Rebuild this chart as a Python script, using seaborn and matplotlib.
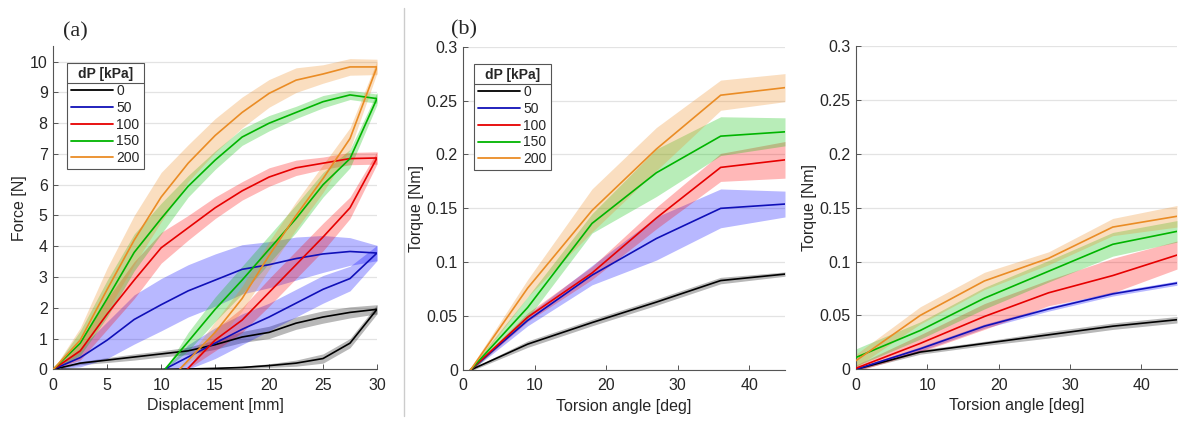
import numpy as np
import pandas as pd
import seaborn as sns
import matplotlib
matplotlib.use("Agg")
import matplotlib.pyplot as plt
from matplotlib.lines import Line2D

sns.set_theme(style="white")
plt.rcParams["font.family"] = ["Liberation Sans", "DejaVu Sans"]

# ---------------- data ----------------
pressures = ["0", "50", "100", "150", "200"]
line_colors = ["#000000", "#1010b8", "#e60000", "#00b400", "#ea8c25"]
band_colors = ["#000000", "#0000ff", "#ff0000", "#00c000", "#ee8a1e"]

# (a) force-displacement hysteresis: loading (0 -> 30 mm) then unloading (30 -> back)
disp_load = [0, 2.5, 5, 7.5, 10, 12.5, 15, 17.5, 20, 22.5, 25, 27.5, 30]
force_load = {
    "0":   [0, 0.2, 0.3, 0.4, 0.5, 0.6, 0.8, 1.05, 1.2, 1.5, 1.7, 1.85, 1.95],
    "50":  [0, 0.38, 0.95, 1.62, 2.1, 2.55, 2.9, 3.25, 3.4, 3.6, 3.75, 3.83, 3.78],
    "100": [0, 0.6, 1.8, 2.9, 3.95, 4.6, 5.25, 5.8, 6.25, 6.55, 6.7, 6.85, 6.87],
    "150": [0, 0.85, 2.3, 3.8, 4.9, 5.95, 6.8, 7.55, 8.0, 8.35, 8.7, 8.92, 8.8],
    "200": [0, 0.95, 2.6, 4.2, 5.6, 6.7, 7.6, 8.35, 8.97, 9.4, 9.6, 9.83, 9.83],
}
force_load_sd = {
    "0":   [0, 0.05, 0.08, 0.1, 0.1, 0.12, 0.15, 0.18, 0.2, 0.2, 0.2, 0.18, 0.15],
    "50":  [0, 0.3, 0.6, 0.8, 0.85, 0.85, 0.85, 0.8, 0.75, 0.7, 0.6, 0.45, 0.25],
    "100": [0, 0.3, 0.5, 0.6, 0.5, 0.4, 0.35, 0.3, 0.3, 0.25, 0.2, 0.2, 0.2],
    "150": [0, 0.4, 0.6, 0.6, 0.5, 0.35, 0.3, 0.27, 0.25, 0.2, 0.2, 0.15, 0.15],
    "200": [0, 0.4, 0.7, 0.8, 0.8, 0.6, 0.55, 0.5, 0.45, 0.4, 0.3, 0.27, 0.25],
}
disp_unload = {
    "0":   [30, 27.5, 25, 22.5, 20, 17.5, 15, 12.5, 10, 7.5, 5, 2.5, 0.8],
    "50":  [30, 27.5, 25, 22.5, 20, 17.5, 15, 12.5, 10.3],
    "100": [30, 27.5, 25, 22.5, 20, 17.5, 15, 12.4],
    "150": [30, 27.5, 25, 22.5, 20, 17.5, 15, 12.5, 10.35],
    "200": [30, 27.5, 25, 22.5, 20, 17.5, 15, 11.7],
}
force_unload = {
    "0":   [1.95, 0.85, 0.35, 0.2, 0.12, 0.06, 0.03, 0.01, 0, 0, 0, 0, 0],
    "50":  [3.78, 2.95, 2.6, 2.15, 1.7, 1.3, 0.85, 0.4, 0],
    "100": [6.87, 5.25, 4.3, 3.4, 2.5, 1.6, 0.95, 0],
    "150": [8.8, 6.85, 6.0, 4.9, 3.9, 2.9, 1.95, 0.9, 0],
    "200": [9.83, 7.5, 6.2, 5.0, 3.7, 2.3, 1.2, 0],
}
force_unload_sd = {
    "0":   [0.15, 0.15, 0.15, 0.1, 0.06, 0.04, 0.03, 0.02, 0, 0, 0, 0, 0],
    "50":  [0.25, 0.4, 0.45, 0.45, 0.45, 0.5, 0.5, 0.4, 0],
    "100": [0.2, 0.35, 0.45, 0.45, 0.45, 0.4, 0.35, 0],
    "150": [0.2, 0.3, 0.4, 0.45, 0.45, 0.45, 0.4, 0.3, 0],
    "200": [0.2, 0.35, 0.45, 0.45, 0.45, 0.4, 0.35, 0],
}

# (b) torque vs torsion angle
angle_b = [1, 9, 18, 27, 36, 45]
torque_b = {
    "0":   [0, 0.024, 0.044, 0.063, 0.083, 0.089],
    "50":  [0, 0.046, 0.088, 0.122, 0.150, 0.154],
    "100": [0, 0.049, 0.090, 0.141, 0.188, 0.195],
    "150": [0, 0.058, 0.136, 0.183, 0.217, 0.221],
    "200": [0, 0.076, 0.148, 0.205, 0.255, 0.262],
}
torque_b_sd = {
    "0":   [0.001, 0.003, 0.003, 0.003, 0.003, 0.002],
    "50":  [0.001, 0.005, 0.009, 0.02, 0.018, 0.012],
    "100": [0.001, 0.004, 0.006, 0.01, 0.013, 0.017],
    "150": [0.002, 0.01, 0.009, 0.022, 0.018, 0.013],
    "200": [0.002, 0.008, 0.02, 0.02, 0.014, 0.013],
}

# (c) torque vs torsion angle, second configuration
angle_c = [0, 9, 18, 27, 36, 45]
torque_c = {
    "0":   [0, 0.016, 0.024, 0.032, 0.040, 0.046],
    "50":  [0, 0.019, 0.040, 0.056, 0.070, 0.080],
    "100": [0.001, 0.024, 0.049, 0.071, 0.087, 0.106],
    "150": [0.011, 0.036, 0.066, 0.091, 0.116, 0.128],
    "200": [0.008, 0.050, 0.082, 0.103, 0.132, 0.142],
}
torque_c_sd = {
    "0":   [0.001, 0.002, 0.002, 0.003, 0.003, 0.003],
    "50":  [0.001, 0.002, 0.002, 0.002, 0.002, 0.002],
    "100": [0.003, 0.008, 0.012, 0.012, 0.016, 0.013],
    "150": [0.008, 0.008, 0.01, 0.01, 0.011, 0.01],
    "200": [0.006, 0.008, 0.008, 0.006, 0.008, 0.01],
}

# ---------------- figure ----------------
fig = plt.figure(figsize=(11.81, 4.21), dpi=100)
ax_a = fig.add_axes([0.0451, 0.1228, 0.2741, 0.7672])
ax_b = fig.add_axes([0.3923, 0.1211, 0.2724, 0.7680])
ax_c = fig.add_axes([0.7248, 0.1228, 0.2718, 0.7679])

palette = dict(zip(pressures, line_colors))
bands = dict(zip(pressures, band_colors))

# (a) loops
rows = []
for p in pressures:
    xs = list(disp_load) + list(disp_unload[p])
    ys = list(force_load[p]) + list(force_unload[p])
    for i, (x, y) in enumerate(zip(xs, ys)):
        rows.append({"dP": p, "order": i, "Displacement": x, "Force": y})
df_a = pd.DataFrame(rows)

for p in pressures:
    xl = np.array(disp_load); yl = np.array(force_load[p]); sl = np.array(force_load_sd[p])
    ax_a.fill_between(xl, np.clip(yl - sl, 0, None), yl + sl, color=bands[p],
                      alpha=0.28, lw=0, zorder=1)
    xu = np.array(disp_unload[p]); yu = np.array(force_unload[p]); su = np.array(force_unload_sd[p])
    ax_a.fill_between(xu, np.clip(yu - su, 0, None), yu + su, color=bands[p],
                      alpha=0.28, lw=0, zorder=1)

sns.lineplot(data=df_a, x="Displacement", y="Force", hue="dP", units="dP",
             estimator=None, sort=False, palette=palette, hue_order=pressures,
             lw=1.2, ax=ax_a, legend=False, zorder=3)


def torque_panel(ax, angles, mean, sd):
    rows = []
    for p in pressures:
        for x, y in zip(angles, mean[p]):
            rows.append({"dP": p, "Angle": x, "Torque": y})
        m = np.array(mean[p]); s = np.array(sd[p])
        ax.fill_between(angles, m - s, m + s, color=bands[p], alpha=0.28, lw=0, zorder=1)
    df = pd.DataFrame(rows)
    sns.lineplot(data=df, x="Angle", y="Torque", hue="dP", hue_order=pressures,
                 palette=palette, lw=1.2, ax=ax, legend=False, zorder=3)


torque_panel(ax_b, angle_b, torque_b, torque_b_sd)
torque_panel(ax_c, angle_c, torque_c, torque_c_sd)

# ---------------- axes styling ----------------
tick_color = "#262626"
for ax in (ax_a, ax_b, ax_c):
    for side in ("top", "right"):
        ax.spines[side].set_visible(False)
    for side in ("left", "bottom"):
        ax.spines[side].set_color("#555555")
        ax.spines[side].set_linewidth(0.8)
    ax.yaxis.grid(True, color="#e3e3e3", lw=0.9, zorder=0)
    ax.xaxis.grid(False)
    ax.set_axisbelow(True)
    ax.tick_params(axis="both", which="major", bottom=True, left=True,
                   direction="in", length=3.5, width=0.7, color="#555555",
                   labelsize=11.5, labelcolor=tick_color)
    ax.tick_params(axis="x", pad=6)
    ax.tick_params(axis="y", pad=4)

ax_a.set_xlim(0, 30)
ax_a.set_ylim(0, 10.5)
ax_a.set_xticks(range(0, 31, 5))
ax_a.set_yticks(range(0, 11))
ax_a.set_xlabel("Displacement [mm]", fontsize=11.5, color=tick_color, labelpad=4)
ax_a.set_ylabel("Force [N]", fontsize=11.5, color=tick_color, labelpad=2)

torque_ticks = [0, 0.05, 0.1, 0.15, 0.2, 0.25, 0.3]
torque_labels = ["0", "0.05", "0.1", "0.15", "0.2", "0.25", "0.3"]
for ax in (ax_b, ax_c):
    ax.set_xlim(0, 45)
    ax.set_ylim(0, 0.3)
    ax.set_xticks([0, 10, 20, 30, 40])
    ax.set_yticks(torque_ticks)
    ax.set_yticklabels(torque_labels)
    ax.set_xlabel("Torsion angle [deg]", fontsize=11.5, color=tick_color, labelpad=4)
    ax.set_ylabel("Torque [Nm]", fontsize=11.5, color=tick_color, labelpad=2)

# ---------------- legends ----------------
handles = [Line2D([], [], color=c, lw=1.3) for c in line_colors]
legends = []
for ax, anchor in ((ax_a, (0.042, 0.948)), (ax_b, (0.033, 0.946))):
    leg = ax.legend(handles, pressures, title="dP [kPa]", loc="upper left",
                    bbox_to_anchor=anchor, borderaxespad=0, fontsize=10,
                    title_fontproperties={"weight": "bold", "size": 10},
                    frameon=True, fancybox=False, framealpha=1, edgecolor="#555555",
                    handlelength=3.0, handletextpad=0.25, labelspacing=0.2,
                    borderpad=0.3)
    leg.get_frame().set_linewidth(0.8)
    leg.set_zorder(5)
    legends.append(leg)

# panel labels and separator
fig.text(0.0635, 0.924, "(a)", family="Liberation Serif", fontsize=16, ha="center", va="center")
fig.text(0.3925, 0.929, "(b)", family="Liberation Serif", fontsize=16, ha="center", va="center")
fig.add_artist(Line2D([404 / 1181, 404 / 1181], [1 - 8 / 421, 1 - 416 / 421],
                      color="#cccccc", lw=1.0))

# rule under each legend title
fig.canvas.draw()
renderer = fig.canvas.get_renderer()
inv = fig.transFigure.inverted()
for leg in legends:
    frame = leg.get_frame().get_window_extent(renderer)
    title = leg.get_title().get_window_extent(renderer)
    y = title.y0 - 2
    (x0, yy), (x1, _) = inv.transform([(frame.x0, y), (frame.x1, y)])
    fig.add_artist(Line2D([x0, x1], [yy, yy], color="#555555", lw=0.8, zorder=10))

fig.savefig("out.png", dpi=100)
